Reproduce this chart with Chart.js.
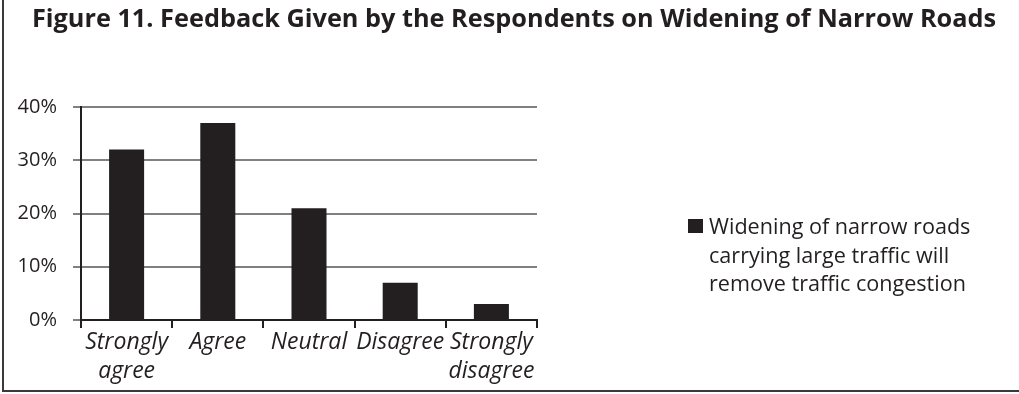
<!DOCTYPE html>
<html>
<head>
<meta charset="utf-8">
<script src="https://cdn.jsdelivr.net/npm/chart.js@4/dist/chart.umd.min.js"></script>
<style>
  html, body { margin: 0; padding: 0; background: #fff; }
  #wrap { width: 1019px; height: 394px; position: relative; }
</style>
</head>
<body>
<div id="wrap"><canvas id="c" width="1019" height="394"></canvas></div>
<script>
// Survey responses (percent of respondents)
const chartTitle = 'Figure 11. Feedback Given by the Respondents on Widening of Narrow Roads';
const categories = [['Strongly', 'agree'], 'Agree', 'Neutral', 'Disagree', ['Strongly', 'disagree']];
const seriesLabel = ['Widening of narrow roads', 'carrying large traffic will', 'remove traffic congestion'];
const seriesValues = [32, 37, 21, 7, 3];
const yTicks = [0, 10, 20, 30, 40];

const INK = '#231f20';
const FONT = '"Open Sans", Lato, sans-serif';

// Title, frame and the side legend are painted on top of the chart
const decorations = {
  id: 'decorations',
  afterDraw(chart) {
    const ctx = chart.ctx;
    ctx.save();
    // frame: left and bottom rules
    ctx.strokeStyle = '#3a3a3a';
    ctx.lineWidth = 2;
    ctx.beginPath();
    ctx.moveTo(3, 0);
    ctx.lineTo(3, 391);
    ctx.lineTo(1019, 391);
    ctx.stroke();

    // title
    ctx.fillStyle = INK;
    ctx.font = 'bold 25.3px ' + FONT;
    ctx.textAlign = 'center';
    ctx.textBaseline = 'alphabetic';
    ctx.fillText(chartTitle, 514, 27);

    // legend
    const ds = chart.data.datasets[0];
    ctx.fillStyle = ds.backgroundColor;
    ctx.fillRect(688, 219, 15, 14);
    ctx.fillStyle = INK;
    ctx.font = '21.6px ' + FONT;
    ctx.textAlign = 'left';
    const lines = Array.isArray(ds.label) ? ds.label : [ds.label];
    lines.forEach((t, i) => ctx.fillText(t, 709, 234 + i * 28.5));
    ctx.restore();
  }
};

new Chart(document.getElementById('c'), {
  type: 'bar',
  data: {
    labels: categories,
    datasets: [{
      label: seriesLabel,
      data: seriesValues,
      backgroundColor: INK,
      borderWidth: 0,
      barPercentage: 0.384,
      categoryPercentage: 1.0
    }]
  },
  options: {
    responsive: false,
    animation: false,
    layout: { padding: { left: 0, right: 482, top: 107, bottom: 0 } },
    plugins: {
      legend: { display: false },
      title: { display: false },
      tooltip: { enabled: false }
    },
    scales: {
      x: {
        afterFit(s) { s.height = 74; },
        border: { color: INK, width: 2 },
        grid: { offset: true, drawOnChartArea: false, drawTicks: true, tickLength: 8, color: INK, lineWidth: 2 },
        ticks: {
          color: INK,
          padding: 0,
          maxRotation: 0,
          autoSkip: false,
          font: { family: FONT, size: 23, style: 'italic', lineHeight: 1.26 }
        }
      },
      y: {
        min: 0,
        max: 40,
        afterFit(s) { s.width = 81; },
        afterBuildTicks(s) { s.ticks = yTicks.map(v => ({ value: v })); },
        border: { color: INK, width: 2 },
        grid: { color: '#808080', lineWidth: 2, tickLength: 8, tickColor: '#808080' },
        ticks: {
          color: INK,
          padding: 16,
          font: { family: FONT, size: 20 },
          callback: v => v + '%'
        }
      }
    }
  },
  plugins: [decorations]
});
</script>
</body>
</html>
